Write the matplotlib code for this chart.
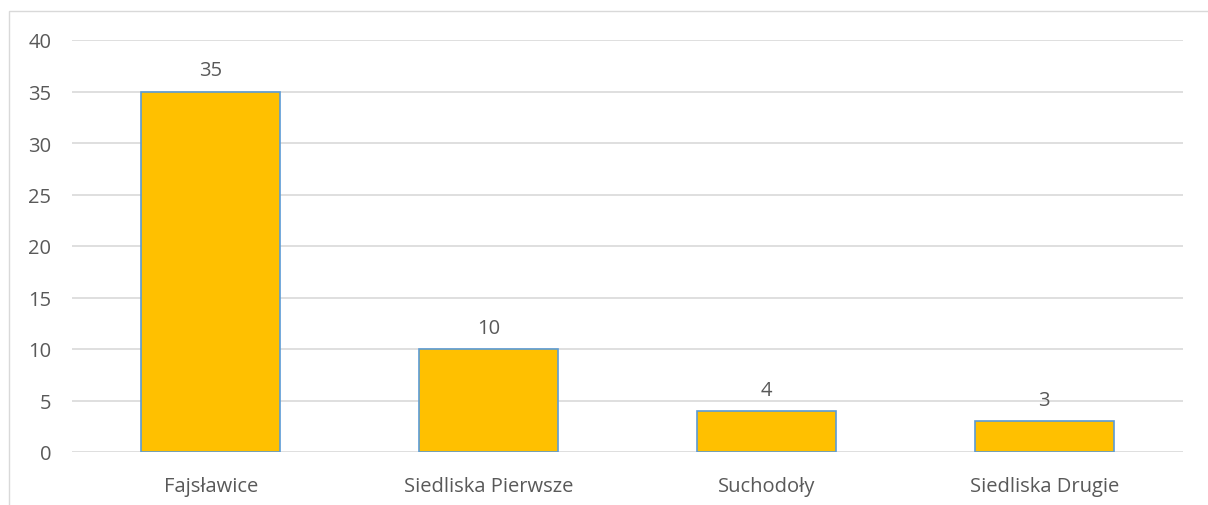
import matplotlib
matplotlib.use("Agg")
import matplotlib.pyplot as plt
from matplotlib.patches import Rectangle

categories = ["Fajsławice", "Siedliska Pierwsze", "Suchodoły", "Siedliska Drugie"]
values = [35, 10, 4, 3]
yticks = [0, 5, 10, 15, 20, 25, 30, 35, 40]

plt.rcParams['font.family'] = ['Open Sans', 'DejaVu Sans']
txt = '#595959'
fs = 14.5

fig = plt.figure(figsize=(12.08, 5.06), dpi=100)
ax = fig.add_axes([72/1208, 53/506, (1183-72)/1208, (453-41)/506])

x = list(range(len(categories)))
bars = ax.bar(x, values, width=0.5, color='#FFC000', edgecolor='#5B9BD5', linewidth=1.2, zorder=3)
for xi, v in zip(x, values):
    ax.annotate(str(v), (xi, v), xytext=(0, 8), textcoords='offset points',
                ha='center', va='bottom', fontsize=fs, color=txt, zorder=4)

ax.set_xlim(-0.5, len(categories) - 0.5)
ax.set_ylim(0, 40)
ax.set_yticks(yticks)
ax.set_xticks(x)
ax.set_xticklabels(categories)
ax.tick_params(axis='both', length=0, labelsize=fs, colors=txt)
ax.tick_params(axis='y', pad=15)
ax.tick_params(axis='x', pad=17)
ax.grid(axis='y', color='#D9D9D9', linewidth=1.2, zorder=0)
for s in ax.spines.values():
    s.set_visible(False)

frame = Rectangle((9/1208, -0.1), 1.2, (506-12)/506 + 0.1, transform=fig.transFigure,
                  fill=False, edgecolor='#D9D9D9', linewidth=1, clip_on=False)
fig.patches.append(frame)

fig.savefig("out.png", dpi=100)
